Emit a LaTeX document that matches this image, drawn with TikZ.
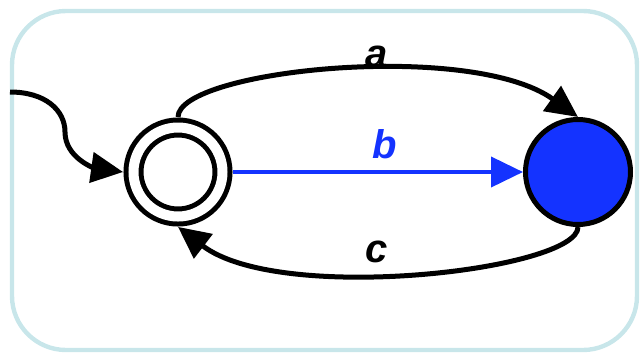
\documentclass[tikz,border=0pt]{standalone}
\usepackage{fontspec}
\setsansfont{Liberation Sans}
\usepackage{tikz}
\usetikzlibrary{arrows.meta,positioning}
\usepackage{xcolor}
\definecolor{FrameCyan}{HTML}{C8E6EA}
\definecolor{StateBlue}{HTML}{1433FF}
\tikzset{
  framebox/.style={draw=FrameCyan,line width=2.2pt,rounded corners=27pt},
  acceptstate/.style={circle,draw=black,fill=white,line width=2.5pt,double=white,double distance=5pt,minimum size=44.5pt,outer sep=5.2pt,inner sep=0pt},
  bluestate/.style={circle,draw=black,fill=StateBlue,line width=2.5pt,minimum size=52.5pt,inner sep=0pt},
  arrow/.style={-{Triangle[length=16pt,width=15pt]},line width=2.5pt,draw=black},
  bluearrow/.style={-{Triangle[length=16pt,width=15pt]},line width=2pt,draw=StateBlue},
  edgelabel/.style={font=\sffamily\bfseries\itshape\fontsize{20}{24}\selectfont,inner sep=0pt}
}
\begin{document}
\begin{tikzpicture}[x=0.5pt,y=-0.5pt]
\useasboundingbox (0,0) rectangle (644,355);
\draw[framebox] (12,11) rectangle (637,350);
\node[acceptstate] (q0) at (178,172) {};
\node[bluestate] (q1) at (578,172) {};
\coordinate (init) at (10,92);
\coordinate (bend) at (65,132);
\draw[arrow] (init) .. controls (45,92) and (65,110) .. (bend) .. controls (65,158) and (95,168) .. (q0.west);
\draw[arrow] (q0.north) .. controls (178,70) and (470,40) .. (q1.north);
\draw[bluearrow] (q0.east) -- (q1.west);
\draw[arrow] (q1.south) .. controls (578,270) and (280,305) .. (q0.south);
\node[edgelabel] (la) at (377,57) {a};
\node[edgelabel,text=StateBlue] (lb) at (385,144) {b};
\node[edgelabel] (lc) at (377,252) {c};
\end{tikzpicture}
\end{document}
